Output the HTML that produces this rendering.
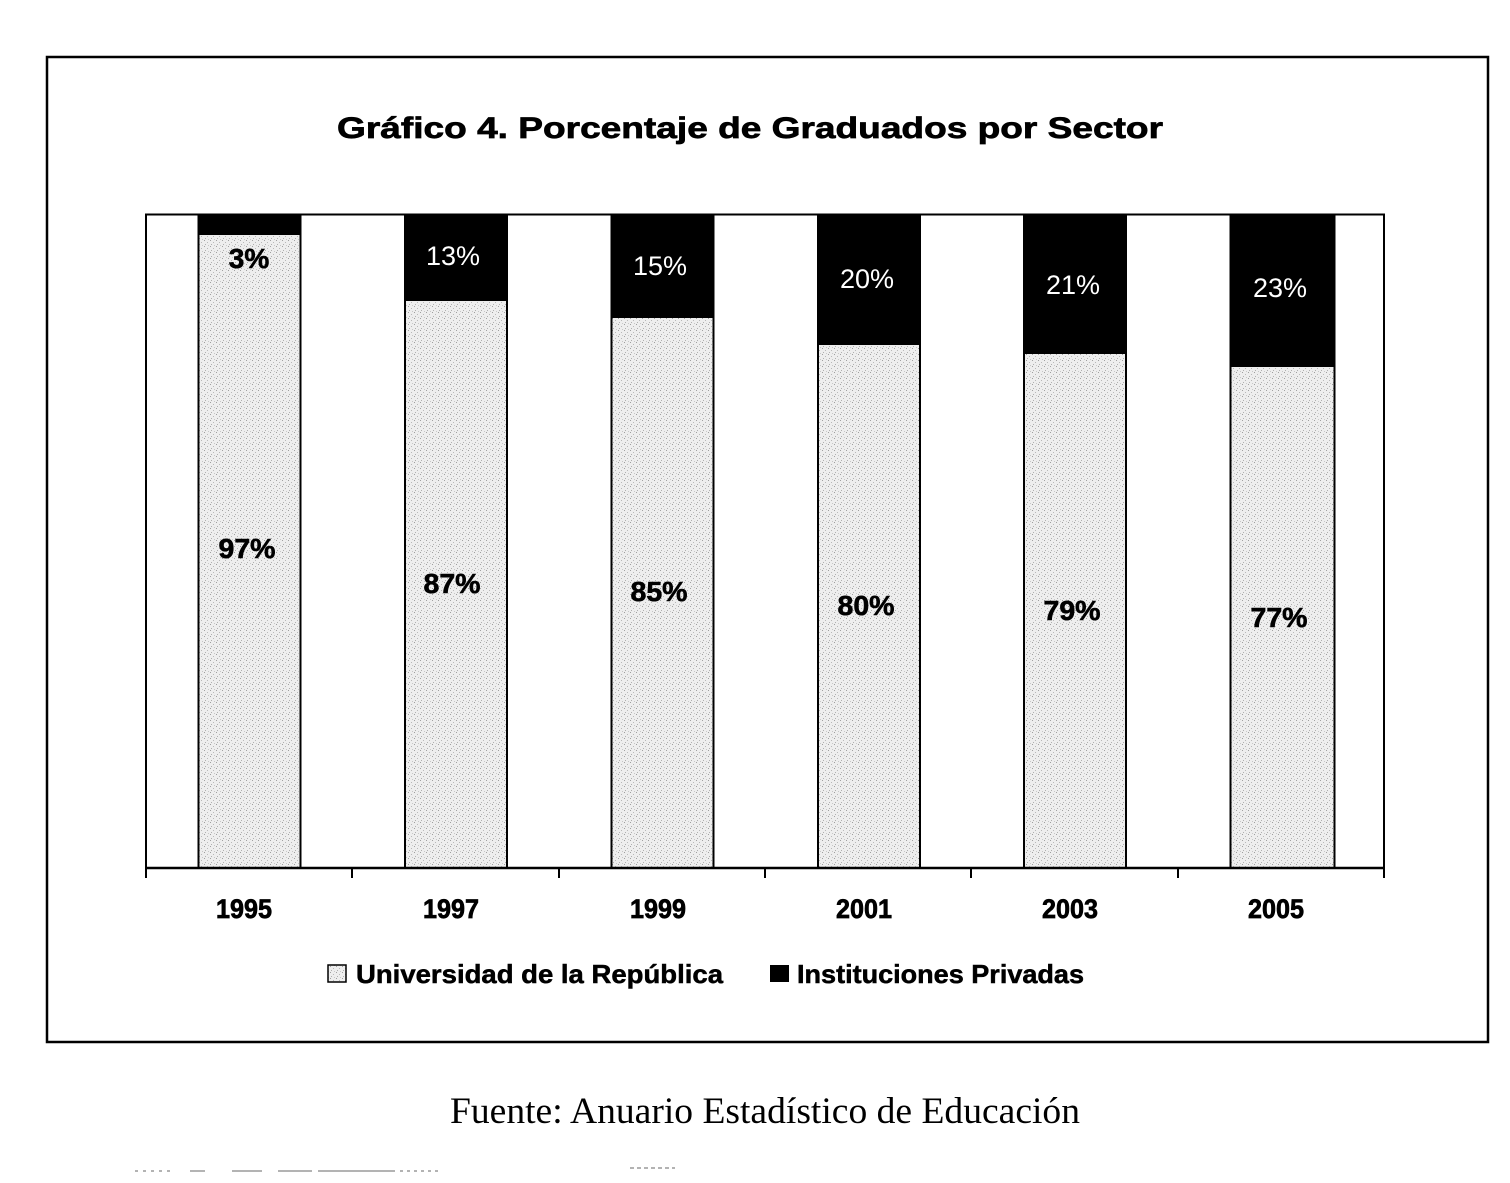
<!DOCTYPE html>
<html>
<head>
<meta charset="utf-8">
<style>
  html, body { margin: 0; padding: 0; background: #ffffff; }
  svg { display: block; }
  .sans { font-family: "Liberation Sans", "DejaVu Sans", sans-serif; }
  .serif { font-family: "Liberation Serif", "DejaVu Serif", serif; }
</style>
</head>
<body>
<svg width="1510" height="1183" viewBox="0 0 1510 1183" xmlns="http://www.w3.org/2000/svg">
  <defs>
    <pattern id="stip" x="0" y="0" width="6" height="6" patternUnits="userSpaceOnUse">
      <rect width="6" height="6" fill="#eeeeee"/>
      <rect x="0" y="0" width="1" height="1" fill="#a0a0a0"/>
      <rect x="3" y="2" width="1" height="1" fill="#b8b8b8"/>
      <rect x="1" y="4" width="1" height="1" fill="#b0b0b0"/>
      <rect x="4" y="5" width="1" height="1" fill="#c8c8c8"/>
    </pattern>
  </defs>

  <rect x="0" y="0" width="1510" height="1183" fill="#ffffff"/>

  <!-- outer frame -->
  <rect x="47" y="57" width="1441" height="985" fill="none" stroke="#000" stroke-width="2.5"/>

  <!-- title -->
  <text class="sans" x="337" y="138" font-size="30" font-weight="bold" stroke="#000" stroke-width="0.7" textLength="826" lengthAdjust="spacingAndGlyphs" fill="#000">Gráfico 4. Porcentaje de Graduados por Sector</text>

  <!-- plot area border -->
  <rect x="146" y="214.5" width="1238" height="653.5" fill="none" stroke="#000" stroke-width="2"/>

  <!-- bars: light part -->
  <g stroke="#000" stroke-width="2">
    <rect x="198.5" y="234" width="102" height="634" fill="url(#stip)"/>
    <rect x="405" y="300" width="102" height="568" fill="url(#stip)"/>
    <rect x="611.5" y="317" width="102" height="551" fill="url(#stip)"/>
    <rect x="818" y="344" width="102" height="524" fill="url(#stip)"/>
    <rect x="1024" y="353" width="102" height="515" fill="url(#stip)"/>
    <rect x="1230.5" y="366" width="104" height="502" fill="url(#stip)"/>
  </g>
  <!-- bars: dark part -->
  <g fill="#000">
    <rect x="197.5" y="214" width="104" height="20"/>
    <rect x="404" y="214" width="104" height="86"/>
    <rect x="610.5" y="214" width="104" height="103"/>
    <rect x="817" y="214" width="104" height="130"/>
    <rect x="1023" y="214" width="104" height="139"/>
    <rect x="1229.5" y="214" width="106" height="152"/>
  </g>

  <!-- axis line and ticks -->
  <line x1="146" y1="868" x2="1384" y2="868" stroke="#000" stroke-width="2.5"/>
  <g stroke="#000" stroke-width="2">
    <line x1="146" y1="868" x2="146" y2="878"/>
    <line x1="352" y1="868" x2="352" y2="878"/>
    <line x1="559" y1="868" x2="559" y2="878"/>
    <line x1="765" y1="868" x2="765" y2="878"/>
    <line x1="971" y1="868" x2="971" y2="878"/>
    <line x1="1178" y1="868" x2="1178" y2="878"/>
    <line x1="1384" y1="868" x2="1384" y2="878"/>
  </g>

  <!-- top labels -->
  <text class="sans" x="249" y="268" font-size="28" font-weight="bold" stroke="#000" stroke-width="0.6" text-anchor="middle" fill="#000">3%</text>
  <g class="sans" font-size="27" text-anchor="middle" fill="#fff">
    <text x="453" y="265">13%</text>
    <text x="660" y="275">15%</text>
    <text x="867" y="288">20%</text>
    <text x="1073" y="294">21%</text>
    <text x="1280" y="297">23%</text>
  </g>

  <!-- lower labels -->
  <g class="sans" font-size="28" font-weight="bold" text-anchor="middle" fill="#000" stroke="#000" stroke-width="0.6">
    <text x="247" y="558" textLength="57" lengthAdjust="spacingAndGlyphs">97%</text>
    <text x="452" y="593" textLength="57" lengthAdjust="spacingAndGlyphs">87%</text>
    <text x="659" y="601" textLength="57" lengthAdjust="spacingAndGlyphs">85%</text>
    <text x="866" y="615" textLength="57" lengthAdjust="spacingAndGlyphs">80%</text>
    <text x="1072" y="620" textLength="57" lengthAdjust="spacingAndGlyphs">79%</text>
    <text x="1279" y="627" textLength="57" lengthAdjust="spacingAndGlyphs">77%</text>
  </g>

  <!-- year labels -->
  <g class="sans" font-size="27" font-weight="bold" text-anchor="middle" fill="#000" stroke="#000" stroke-width="0.7">
    <text x="244" y="918" textLength="56" lengthAdjust="spacingAndGlyphs">1995</text>
    <text x="451" y="918" textLength="56" lengthAdjust="spacingAndGlyphs">1997</text>
    <text x="658" y="918" textLength="56" lengthAdjust="spacingAndGlyphs">1999</text>
    <text x="864" y="918" textLength="56" lengthAdjust="spacingAndGlyphs">2001</text>
    <text x="1070" y="918" textLength="56" lengthAdjust="spacingAndGlyphs">2003</text>
    <text x="1276" y="918" textLength="56" lengthAdjust="spacingAndGlyphs">2005</text>
  </g>

  <!-- legend -->
  <rect x="328" y="965" width="18" height="17" fill="url(#stip)" stroke="#000" stroke-width="1.5"/>
  <text class="sans" x="356" y="983" font-size="26" font-weight="bold" stroke="#000" stroke-width="0.5" fill="#000" textLength="367" lengthAdjust="spacingAndGlyphs">Universidad de la República</text>
  <rect x="770" y="965" width="19" height="17" fill="#000"/>
  <text class="sans" x="797" y="983" font-size="26" font-weight="bold" stroke="#000" stroke-width="0.5" fill="#000" textLength="287" lengthAdjust="spacingAndGlyphs">Instituciones Privadas</text>

  <!-- source -->
  <text class="serif" x="450" y="1123" font-size="37" fill="#000" textLength="630" lengthAdjust="spacingAndGlyphs">Fuente: Anuario Estadístico de Educación</text>

  <!-- faint scan marks at bottom -->
  <g stroke="#9a9a9a" stroke-width="1.5">
    <line x1="135" y1="1171" x2="175" y2="1171" stroke-dasharray="3 5"/>
    <line x1="190" y1="1171" x2="205" y2="1171"/>
    <line x1="232" y1="1171" x2="262" y2="1171"/>
    <line x1="278" y1="1171" x2="312" y2="1171"/>
    <line x1="318" y1="1171" x2="395" y2="1171"/>
    <line x1="400" y1="1171" x2="440" y2="1171" stroke-dasharray="3 4"/>
    <line x1="630" y1="1168" x2="675" y2="1168" stroke-dasharray="4 3"/>
  </g>
</svg>
</body>
</html>
